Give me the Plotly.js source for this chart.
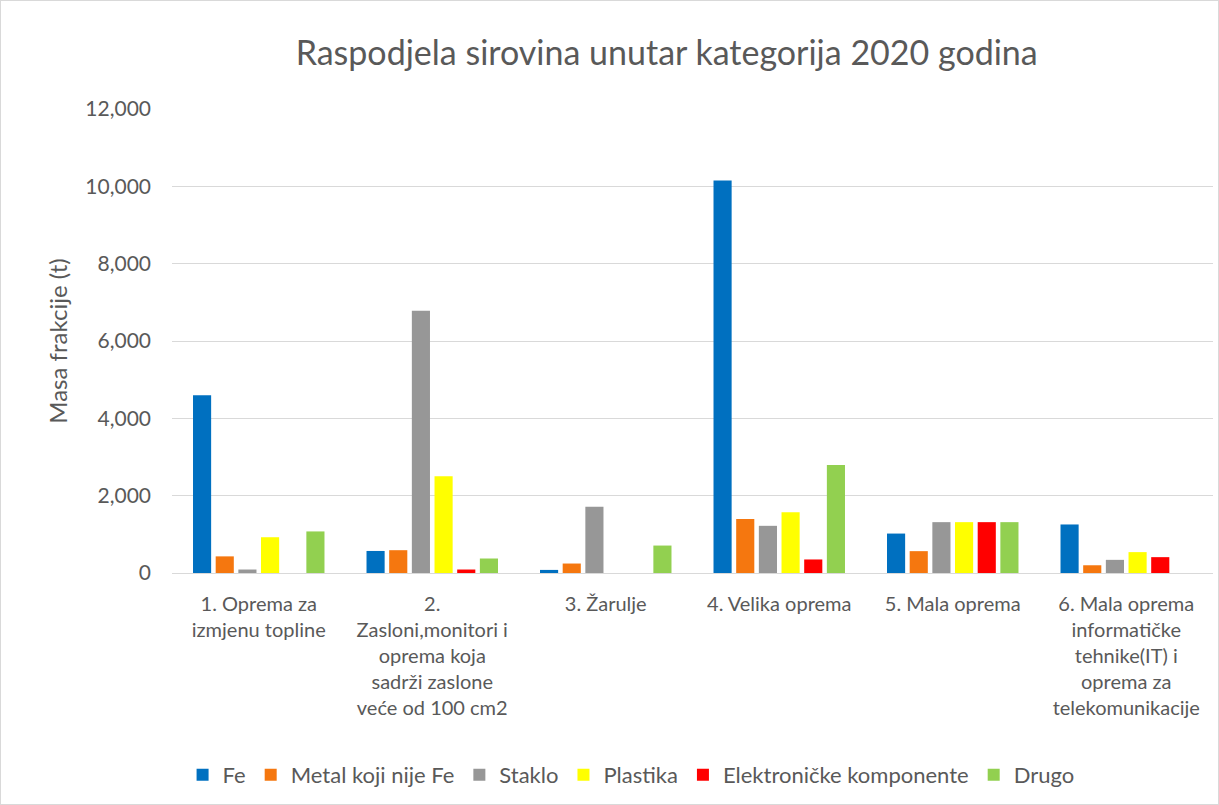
<!DOCTYPE html>
<html>
<head>
<meta charset="utf-8">
<script src="https://cdn.plot.ly/plotly-3.0.1.min.js"></script>
<style>
html,body{margin:0;padding:0;background:#fff;}
#chart{width:1219px;height:805px;box-sizing:border-box;border:1px solid #d9d9d9;}
</style>
</head>
<body>
<div id="chart"></div>
<script>
const categories = [
  "1. Oprema za<br>izmjenu topline",
  "2.<br>Zasloni,monitori i<br>oprema koja<br>sadrži zaslone<br>veće od 100 cm2",
  "3. Žarulje",
  "4. Velika oprema",
  "5. Mala oprema",
  "6. Mala oprema<br>informatičke<br>tehnike(IT) i<br>oprema za<br>telekomunikacije"
];
const seriesNames = ["Fe", "Metal koji nije Fe", "Staklo", "Plastika", "Elektroničke komponente", "Drugo"];
const fe        = [4600, 570, 80, 10150, 1020, 1255];
const metal     = [430, 590, 245, 1395, 565, 200];
const staklo    = [90, 6780, 1715, 1220, 1315, 340];
const plastika  = [925, 2500, 0, 1570, 1315, 540];
const elektro   = [0, 90, 0, 350, 1315, 410];
const drugo     = [1075, 375, 710, 2795, 1315, 0];
const seriesValues = [fe, metal, staklo, plastika, elektro, drugo];
const colors = ["#0070C0", "#F5770F", "#979797", "#FFFF00", "#FF0000", "#92D050"];

const traces = seriesNames.map((name, i) => ({
  type: "bar",
  name: name,
  x: categories,
  y: seriesValues[i],
  marker: {color: colors[i]}
}));

const fam = "Lato, 'Open Sans', sans-serif";
const grey = "#595959";

const layout = {
  width: 1217, height: 803,
  margin: {l: 171, r: 5, t: 108, b: 231},
  paper_bgcolor: "#fff",
  plot_bgcolor: "#fff",
  font: {family: fam, color: grey},
  barmode: "group",
  bargap: 0.216,
  bargroupgap: 0.2,
  title: {
    text: "Raspodjela sirovina unutar kategorija 2020 godina",
    font: {family: fam, size: 34, color: grey},
    x: 0.547, xanchor: "center", y: 0.935, yanchor: "middle"
  },
  xaxis: {
    tickfont: {family: fam, size: 20, color: grey},
    showline: true, linecolor: "#d9d9d9", linewidth: 1,
    ticks: "", ticklabelstandoff: 13, automargin: false
  },
  yaxis: {
    range: [0, 12000],
    dtick: 2000,
    tickformat: ",",
    tickfont: {family: fam, size: 21, color: grey},
    gridcolor: "#d9d9d9", gridwidth: 1,
    zeroline: false,
    ticks: "", ticklabelstandoff: 20,
    title: {text: "Masa frakcije (t)", font: {family: fam, size: 24, color: grey}, standoff: 10},
    automargin: false
  },
  legend: {
    orientation: "h",
    x: 0.441, xanchor: "center",
    y: -0.435, yanchor: "middle",
    font: {family: fam, size: 22, color: grey},
    traceorder: "normal"
  },
  showlegend: true
};

Plotly.newPlot("chart", traces, layout, {displayModeBar: false, staticPlot: true});
</script>
</body>
</html>
